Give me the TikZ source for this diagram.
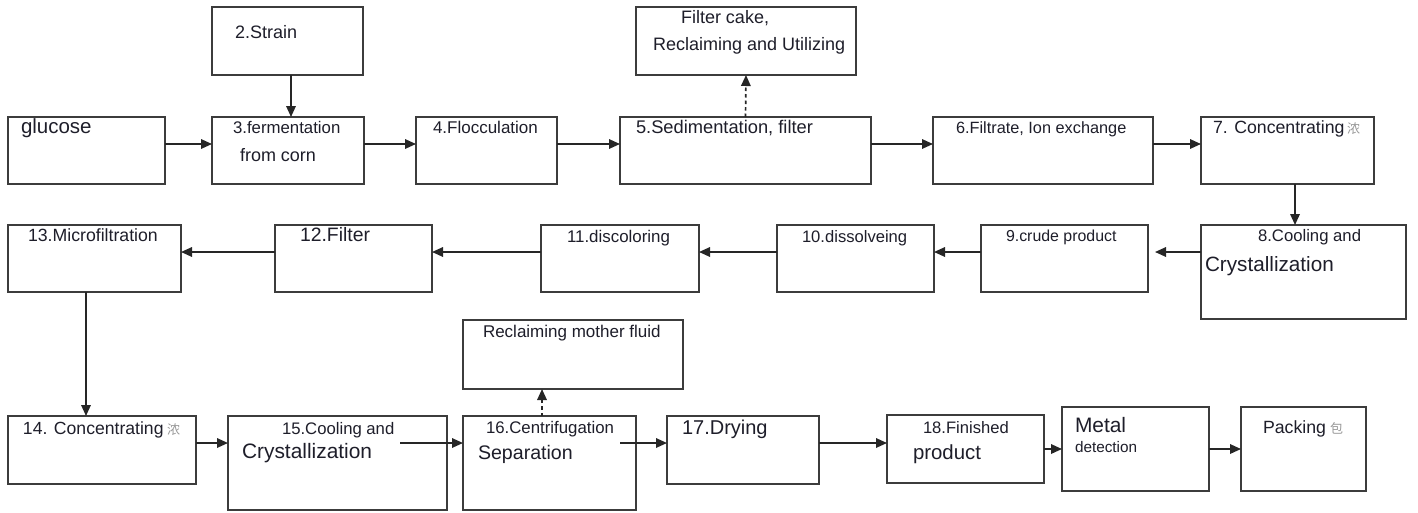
\documentclass[tikz,border=0pt]{standalone}
\usepackage{fontspec}
\setmainfont{Liberation Sans}
\newfontfamily\cjkf{Noto Sans CJK SC}
\usetikzlibrary{arrows.meta}
\definecolor{txtc}{RGB}{30,30,42}
\definecolor{linec}{RGB}{60,60,60}
\tikzset{
  box/.style={draw=linec,line width=1.8pt,rectangle,inner sep=0pt,outer sep=0pt,fill=white},
  txt/.style={inner sep=0pt,outer sep=0pt,text=txtc},
  arr/.style={draw=black!85,line width=1.7pt,-{Triangle[length=11pt,width=9.5pt]}},
  darr/.style={arr,dash pattern=on 3.5pt off 3pt},
  cjk/.style={inner sep=0pt,outer sep=0pt,text=black!40,font=\cjkf\fontsize{13}{13}\selectfont}
}
\newcommand\bx[5]{\node[box,minimum width={(#4-#2)*1pt},minimum height={(#5-#3)*1pt},anchor=north west] (#1) at (#2,#3) {};}
\newcommand\tx[5]{\node[txt,font=\fontsize{#4}{#4}\selectfont,anchor=base west] (#1) at (#2,#3) {#5};}
\begin{document}
\begin{tikzpicture}[x=1pt,y=-1pt]
\useasboundingbox (0,0) rectangle (1418,512);
% row 1 boxes
\bx{glu}{8}{117}{165}{184}
\bx{strain}{212}{7}{363}{75}
\bx{ferm}{212}{117}{364}{184}
\bx{floc}{416}{117}{557}{184}
\bx{sed}{620}{117}{871}{184}
\bx{cake}{636}{7}{856}{75}
\bx{ion}{933}{117}{1153}{184}
\bx{conc}{1201}{117}{1374}{184}
% row 2 boxes
\bx{cool}{1201}{225}{1406}{319}
\bx{crude}{981}{225}{1148}{292}
\bx{diss}{777}{225}{934}{292}
\bx{disc}{541}{225}{699}{292}
\bx{filt}{275}{225}{432}{292}
\bx{micro}{8}{225}{181}{292}
% row 3 boxes
\bx{concb}{8}{416}{196}{484}
\bx{coolb}{228}{416}{447}{510}
\bx{mother}{463}{320}{683}{389}
\bx{centr}{463}{416}{636}{510}
\bx{dry}{667}{416}{819}{484}
\bx{fin}{887}{415}{1044}{483}
\bx{metal}{1062}{407}{1209}{491}
\bx{pack}{1241}{407}{1366}{491}
% texts row 1
\tx{t1}{21}{133}{20.5}{glucose}
\tx{t2}{235}{38}{18}{2.Strain}
\tx{t3a}{233}{133}{16.8}{3.fermentation}
\tx{t3b}{240}{161}{18}{from corn}
\tx{t4}{433}{133}{17}{4.Flocculation}
\tx{tca}{681}{23}{18}{Filter cake,}
\tx{tcb}{653}{50}{18}{Reclaiming and Utilizing}
\tx{t5}{636}{133}{18.3}{5.Sedimentation, filter}
\tx{t6}{956}{133}{16.3}{6.Filtrate, Ion exchange}
\tx{t7}{1213}{133}{17.7}{7. Concentrating}
\node[cjk,anchor=base west] (t7c) at (1347,133) {浓};
% texts row 2
\tx{t8a}{1258}{241}{16.7}{8.Cooling and}
\tx{t8b}{1205}{271}{20.7}{Crystallization}
\tx{t9}{1006}{241}{15.9}{9.crude product}
\tx{t10}{802}{242}{16.6}{10.dissolveing}
\tx{t11}{567}{242}{16.9}{11.discoloring}
\tx{t12}{300}{241}{19.4}{12.Filter}
\tx{t13}{28}{241}{17.7}{13.Microfiltration}
% texts row 3
\tx{t14}{23}{434}{17.6}{14. Concentrating}
\node[cjk,anchor=base west] (t14c) at (167,434) {浓};
\tx{t15a}{282}{434}{16.7}{15.Cooling and}
\tx{t15b}{242}{458}{20.9}{Crystallization}
\tx{tm}{483}{337}{17}{Reclaiming mother fluid}
\tx{t16a}{486}{433}{16.8}{16.Centrifugation}
\tx{t16b}{478}{459}{19.6}{Separation}
\tx{t17}{682}{434}{20}{17.Drying}
\tx{t18a}{923}{433}{16.6}{18.Finished}
\tx{t18b}{913}{459}{20.4}{product}
\tx{tma}{1075}{432}{20.9}{Metal}
\tx{tmb}{1075}{452}{15.3}{detection}
\tx{tp}{1263}{433}{17.7}{Packing}
\node[cjk,anchor=base west] (tpc) at (1330,433) {包};
% helper coordinates
\coordinate (r1) at (0,144);
\coordinate (r2) at (0,252);
\coordinate (r3) at (0,443);
\coordinate (r4) at (0,449);
\coordinate (c1) at (291,0);
\coordinate (c7) at (1295,0);
\coordinate (c13) at (86,0);
\coordinate (c16) at (542,0);
\coordinate (e89) at (1155,252);
\coordinate (s15) at (400,443);
\coordinate (s16) at (620,443);
% connectors row 1
\draw[arr] (glu.east |- r1) -- (ferm.west |- r1);
\draw[arr] (ferm.east |- r1) -- (floc.west |- r1);
\draw[arr] (floc.east |- r1) -- (sed.west |- r1);
\draw[arr] (sed.east |- r1) -- (ion.west |- r1);
\draw[arr] (ion.east |- r1) -- (conc.west |- r1);
\draw[arr] (strain.south -| c1) -- (ferm.north -| c1);
\draw[darr] (sed.north) -- (cake.south);
\draw[arr] (conc.south -| c7) -- (cool.north -| c7);
% row 2
\draw[arr] (cool.west |- r2) -- (e89);
\draw[arr] (crude.west |- r2) -- (diss.east |- r2);
\draw[arr] (diss.west |- r2) -- (disc.east |- r2);
\draw[arr] (disc.west |- r2) -- (filt.east |- r2);
\draw[arr] (filt.west |- r2) -- (micro.east |- r2);
\draw[arr] (micro.south -| c13) -- (concb.north -| c13);
% row 3
\draw[arr] (concb.east |- r3) -- (coolb.west |- r3);
\draw[arr] (s15) -- (centr.west |- r3);
\draw[arr] (s16) -- (dry.west |- r3);
\draw[arr] (dry.east |- r3) -- (fin.west |- r3);
\draw[arr] (fin.east |- r4) -- (metal.west |- r4);
\draw[arr] (metal.east |- r4) -- (pack.west |- r4);
\draw[darr] (centr.north -| c16) -- (mother.south -| c16);
\end{tikzpicture}
\end{document}
